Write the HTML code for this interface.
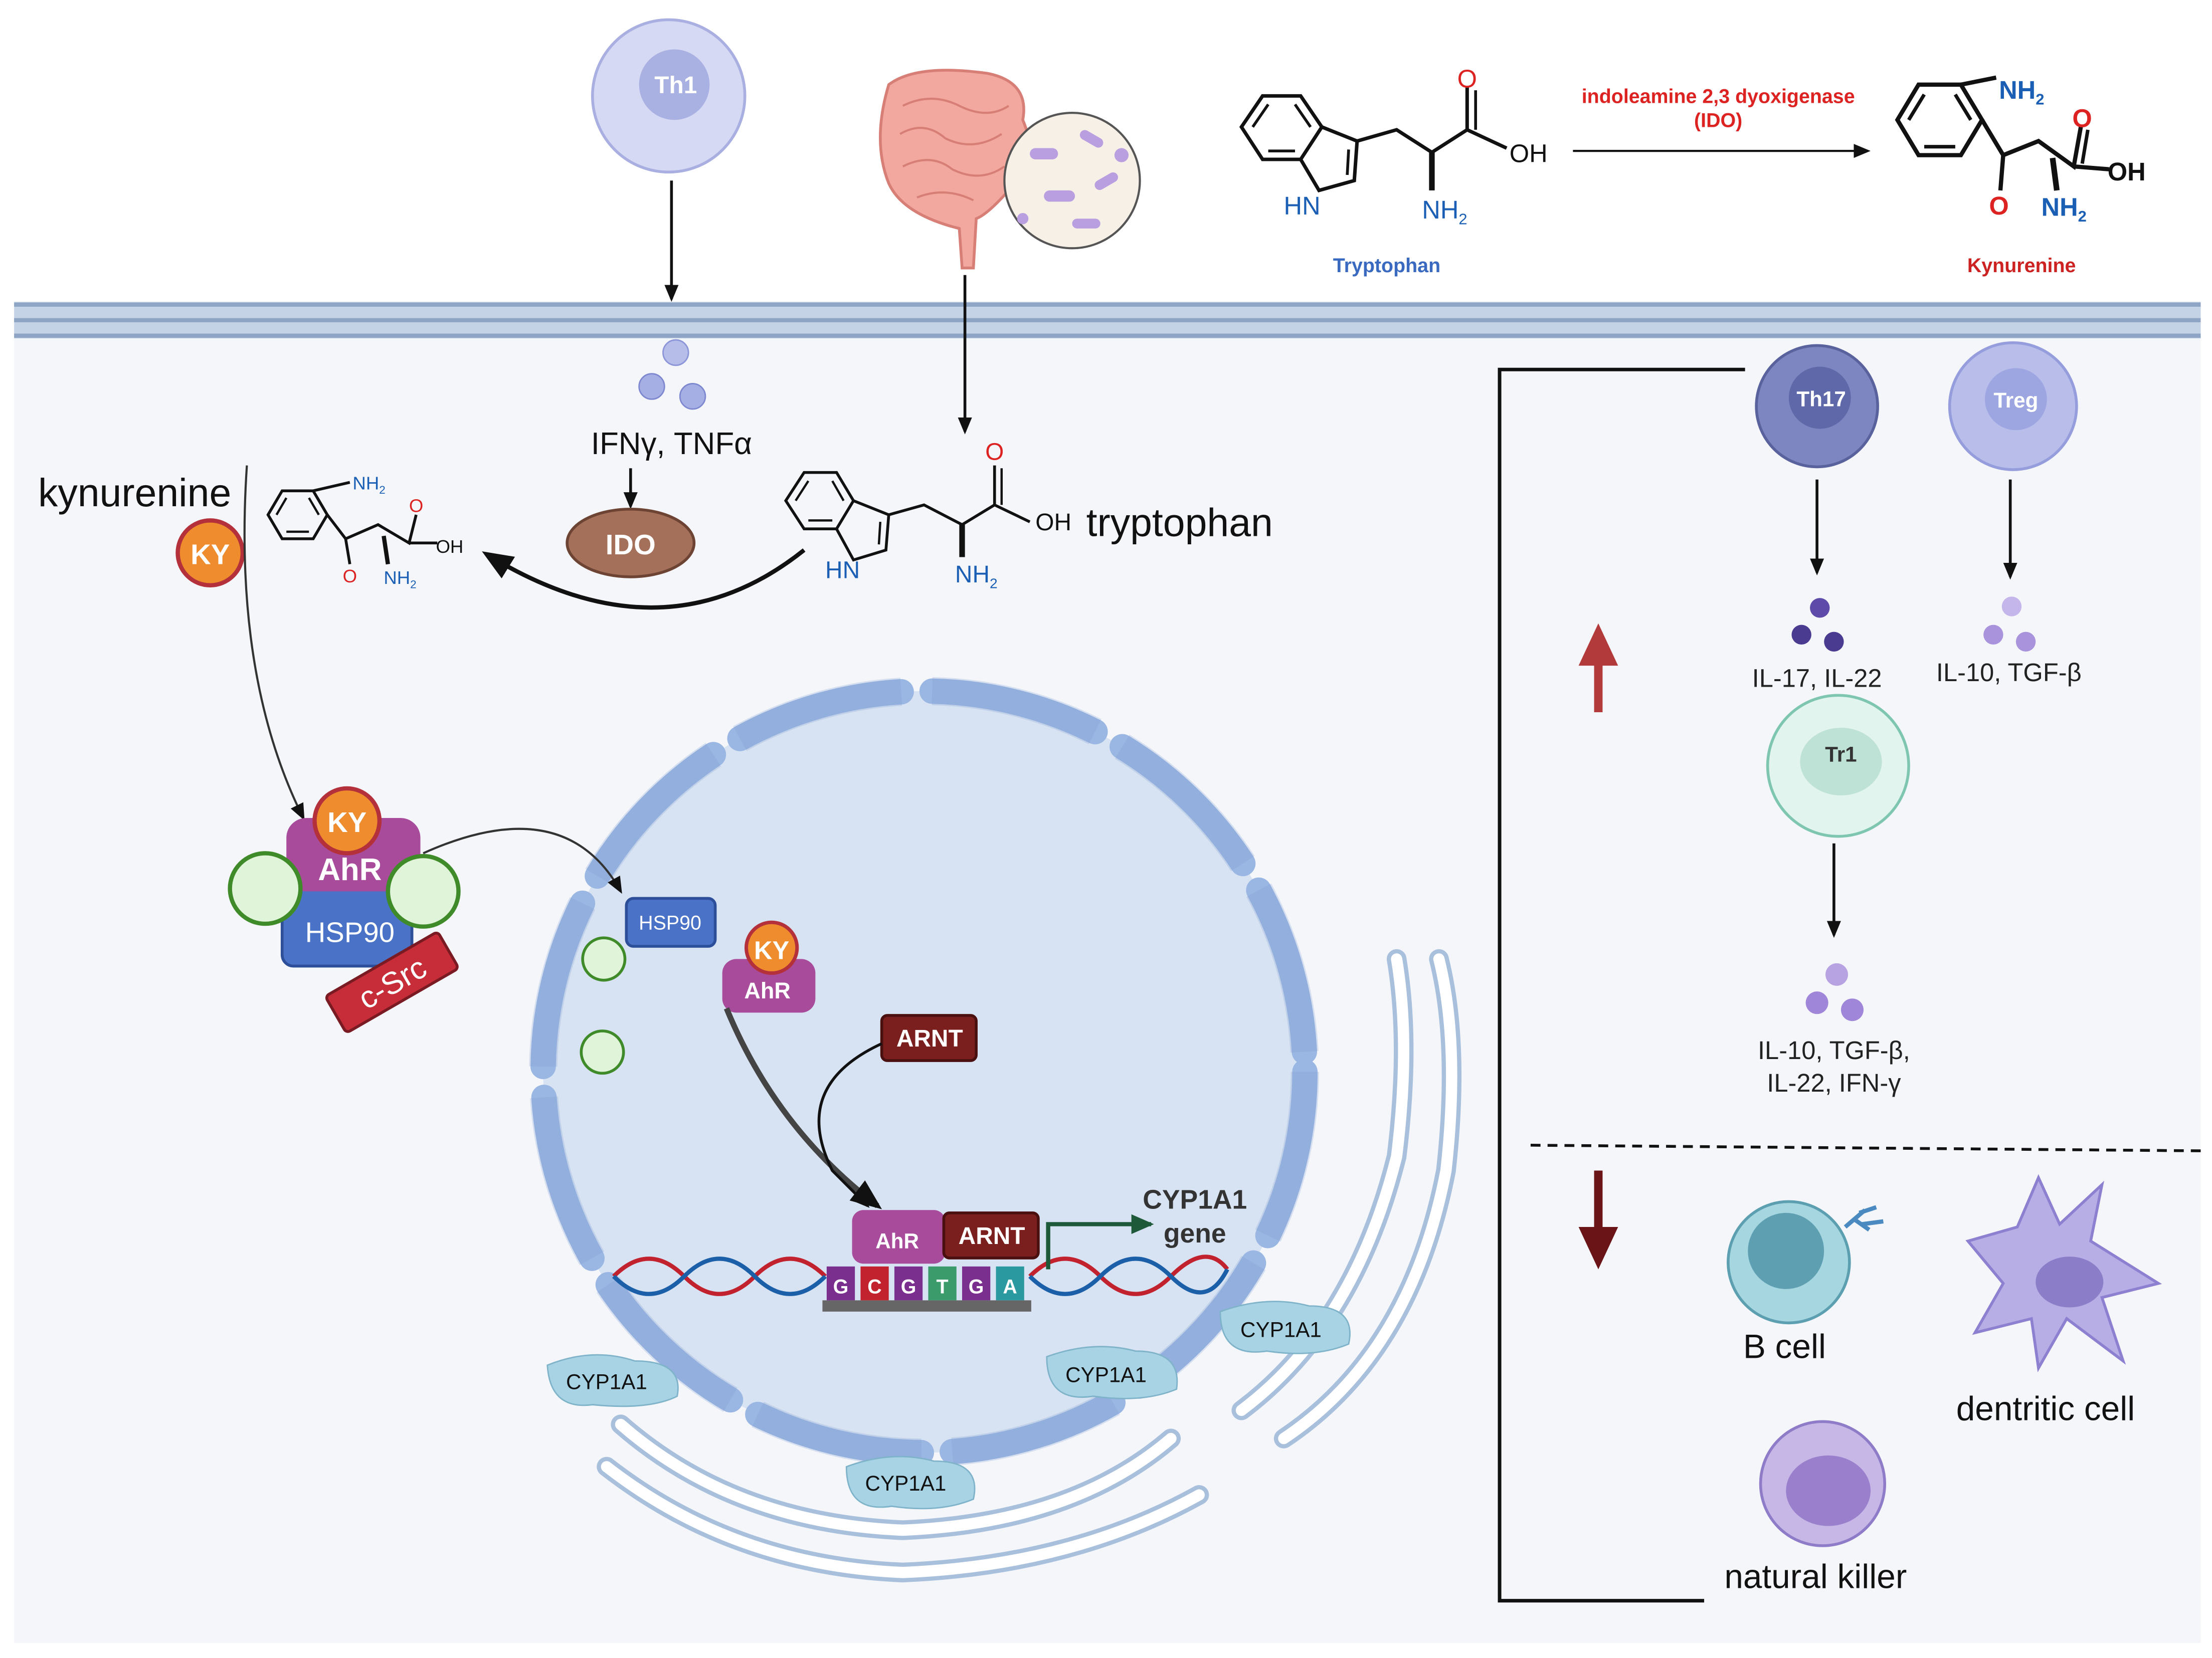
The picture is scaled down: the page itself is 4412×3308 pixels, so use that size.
<!DOCTYPE html>
<html><head><meta charset="utf-8"><style>
html,body{margin:0;padding:0;background:#fff}
svg{display:block}
text{font-family:"Liberation Sans",sans-serif}
</style></head><body>
<svg width="4412" height="3308" viewBox="0 0 1568 1175.6" xmlns="http://www.w3.org/2000/svg">
<defs>
<marker id="ah" markerWidth="12" markerHeight="12" refX="10" refY="6" orient="auto" markerUnits="userSpaceOnUse"><path d="M0,1 L12,6 L0,11 z" fill="#111"/></marker>
<marker id="ahb" markerWidth="22" markerHeight="22" refX="18" refY="11" orient="auto" markerUnits="userSpaceOnUse"><path d="M0,2 L22,11 L0,20 z" fill="#111"/></marker>
<marker id="ahg" markerWidth="16" markerHeight="16" refX="14" refY="8" orient="auto" markerUnits="userSpaceOnUse"><path d="M0,1 L16,8 L0,15 z" fill="#1e5a3a"/></marker>
</defs>
<rect width="1568" height="1176" fill="#fff"/>
<rect x="10" y="240" width="1550" height="925" fill="#f4f6fa"/>
<rect x="10" y="214" width="1550" height="26" fill="#c5d3e6"/>
<line x1="10" y1="216" x2="1560" y2="216" stroke="#8ea5c6" stroke-width="3"/>
<line x1="10" y1="227" x2="1560" y2="227" stroke="#8ea5c6" stroke-width="3"/>
<line x1="10" y1="238" x2="1560" y2="238" stroke="#8ea5c6" stroke-width="3"/>

<!-- Th1 -->
<circle cx="474" cy="68" r="54" fill="#d6d9f3" stroke="#a9afe0" stroke-width="2"/>
<circle cx="478" cy="60" r="25" fill="#a9b0e2"/>
<text x="479" y="66" font-size="17" font-weight="bold" fill="#fff" text-anchor="middle">Th1</text>
<line x1="476" y1="128" x2="476" y2="212" stroke="#111" stroke-width="2" marker-end="url(#ah)"/>

<!-- gut -->
<path d="M630,60 Q650,45 700,52 Q730,58 725,85 Q738,115 715,135 Q700,152 692,155 L690,190 L682,190 L680,162 Q640,152 630,130 Q618,100 630,60z" fill="#f2a89e" stroke="#d77f77" stroke-width="2"/>
<g fill="none" stroke="#d77f77" stroke-width="1.5">
<path d="M640,75 Q660,65 680,75 Q700,85 715,75"/><path d="M638,95 Q655,85 670,98 Q690,108 710,95"/><path d="M640,118 Q660,108 675,120 Q695,130 712,118"/><path d="M650,140 Q670,132 690,142"/>
</g>
<circle cx="760" cy="128" r="48" fill="#f6f0e6" stroke="#555" stroke-width="1.5"/>
<g fill="#b99ee0"><rect x="730" y="105" width="20" height="8" rx="4"/><rect x="765" y="95" width="18" height="7" rx="3.5" transform="rotate(30 774 98)"/><rect x="740" y="135" width="22" height="8" rx="4"/><rect x="775" y="125" width="18" height="7" rx="3.5" transform="rotate(-30 784 128)"/><rect x="760" y="155" width="20" height="7" rx="3.5"/><circle cx="795" cy="110" r="5"/><circle cx="725" cy="155" r="4"/></g>
<line x1="684" y1="195" x2="684" y2="306" stroke="#111" stroke-width="2" marker-end="url(#ah)"/>

<!-- top tryptophan -->
<g stroke="#111" stroke-width="2.5" fill="none">
<path d="M880,90 L895,68 L922,68 L937,90 L922,113 L895,113 Z"/>
<path d="M888,90 L899,74 M918,74 L929,90 M899,107 L918,107" stroke-width="2"/>
<path d="M937,90 L962,100 L960,128 L935,135 L922,113"/>
<path d="M956,106 L955,124" stroke-width="2"/>
<path d="M962,100 L990,92 L1015,108 L1040,92 L1040,62"/>
<path d="M1046,92 L1046,64" stroke-width="2"/>
<path d="M1040,92 L1068,105"/>
<line x1="1015" y1="108" x2="1015" y2="135" stroke-width="4"/>
</g>
<text x="1040" y="62" font-size="18" fill="#d22" text-anchor="middle">O</text>
<text x="1070" y="115" font-size="18" fill="#111">OH</text>
<text x="910" y="152" font-size="18" fill="#1a5fb4">HN</text>
<text x="1008" y="155" font-size="18" fill="#1a5fb4">NH<tspan font-size="11" dy="4">2</tspan></text>
<text x="983" y="193" font-size="14" font-weight="bold" fill="#3a6ac0" text-anchor="middle">Tryptophan</text>
<text x="1218" y="73" font-size="14" font-weight="bold" fill="#d22" text-anchor="middle">indoleamine 2,3 dyoxigenase</text>
<text x="1218" y="90" font-size="14" font-weight="bold" fill="#d22" text-anchor="middle">(IDO)</text>
<line x1="1115" y1="107" x2="1324" y2="107" stroke="#111" stroke-width="1.5" marker-end="url(#ah)"/>
<!-- top kynurenine -->
<g stroke="#111" stroke-width="3" fill="none">
<path d="M1345,85 L1360,60 L1390,60 L1405,85 L1390,110 L1360,110 Z"/>
<path d="M1353,85 L1364,67 M1386,67 L1397,85 M1364,104 L1386,104" stroke-width="2.5"/>
<path d="M1390,60 L1415,55"/><path d="M1405,85 L1420,110 L1445,100 L1470,118 L1475,90 M1470,118 L1495,120"/>
<path d="M1480,92 L1476,116" stroke-width="2.5"/>
<line x1="1420" y1="110" x2="1418" y2="135"/><line x1="1455" y1="112" x2="1458" y2="135" stroke-width="4"/>
</g>
<text x="1417" y="70" font-size="18" font-weight="bold" fill="#1a5fb4">NH<tspan font-size="11" dy="4">2</tspan></text>
<text x="1476" y="90" font-size="18" font-weight="bold" fill="#d22" text-anchor="middle">O</text>
<text x="1494" y="128" font-size="18" font-weight="bold" fill="#111">OH</text>
<text x="1417" y="152" font-size="18" font-weight="bold" fill="#d22" text-anchor="middle">O</text>
<text x="1447" y="153" font-size="18" font-weight="bold" fill="#1a5fb4">NH<tspan font-size="11" dy="4">2</tspan></text>
<text x="1433" y="193" font-size="14" font-weight="bold" fill="#c22" text-anchor="middle">Kynurenine</text>

<!-- cytokines IFN -->
<circle cx="479" cy="250" r="9" fill="#b5bde8" stroke="#8b95d8"/>
<circle cx="462" cy="274" r="9" fill="#a6afe3" stroke="#7d88d0"/>
<circle cx="491" cy="281" r="9" fill="#a6afe3" stroke="#7d88d0"/>
<text x="476" y="322" font-size="22" fill="#111" text-anchor="middle">IFNγ, TNFα</text>
<line x1="447" y1="332" x2="447" y2="359" stroke="#111" stroke-width="2" marker-end="url(#ah)"/>
<ellipse cx="447" cy="385" rx="45" ry="24" fill="#a5705a" stroke="#6d4434" stroke-width="2"/>
<text x="447" y="393" font-size="20" font-weight="bold" fill="#fff" text-anchor="middle">IDO</text>

<!-- cytoplasm tryptophan -->
<g stroke="#111" stroke-width="2" fill="none">
<path d="M557,355 L570,335 L593,335 L605,355 L593,375 L570,375 Z"/>
<path d="M564,355 L573,341 M590,341 L598,355 M573,369 L590,369" stroke-width="1.6"/>
<path d="M605,355 L630,365 L628,390 L605,397 L593,375"/>
<path d="M624,370 L623,386" stroke-width="1.6"/>
<path d="M630,365 L655,358 L682,372 L705,358 L705,330 M705,358 L730,370"/>
<path d="M710,358 L710,332" stroke-width="1.6"/>
<line x1="682" y1="372" x2="682" y2="395" stroke-width="4"/>
</g>
<text x="705" y="326" font-size="17" fill="#d22" text-anchor="middle">O</text>
<text x="734" y="376" font-size="17" fill="#111">OH</text>
<text x="585" y="410" font-size="17" fill="#1a5fb4">HN</text>
<text x="677" y="413" font-size="17" fill="#1a5fb4">NH<tspan font-size="10" dy="4">2</tspan></text>
<text x="770" y="380" font-size="28" fill="#111">tryptophan</text>
<path d="M570,390 Q470,470 345,393" stroke="#111" stroke-width="3" fill="none" marker-end="url(#ahb)"/>

<!-- cytoplasm kynurenine -->
<text x="27" y="359" font-size="28" fill="#111">kynurenine</text>
<g stroke="#111" stroke-width="2" fill="none">
<path d="M190,365 L200,348 L222,348 L232,365 L222,382 L200,382 Z"/>
<path d="M196,365 L203,353 M219,353 L226,365 M203,377 L219,377" stroke-width="1.6"/>
<path d="M222,348 L248,342 M232,365 L245,382 L268,372 L290,385 L295,365 M290,385 L310,385"/>
<line x1="245" y1="382" x2="248" y2="400"/><line x1="272" y1="380" x2="275" y2="400" stroke-width="3"/>
</g>
<text x="250" y="347" font-size="13" fill="#1a5fb4">NH<tspan font-size="8" dy="3">2</tspan></text>
<text x="295" y="363" font-size="13" fill="#d22" text-anchor="middle">O</text>
<text x="309" y="392" font-size="13" fill="#111">OH</text>
<text x="248" y="413" font-size="13" fill="#d22" text-anchor="middle">O</text>
<text x="272" y="414" font-size="13" fill="#1a5fb4">NH<tspan font-size="8" dy="3">2</tspan></text>
<circle cx="149" cy="392" r="23" fill="#ee8c2e" stroke="#b4303a" stroke-width="3"/>
<text x="149" y="400" font-size="20" font-weight="bold" fill="#fff" text-anchor="middle">KY</text>
<path d="M175,330 Q165,480 215,580" stroke="#333" stroke-width="1.5" fill="none" marker-end="url(#ah)"/>

<!-- AhR complex -->
<rect x="200" y="625" width="92" height="60" rx="8" fill="#4a72c6" stroke="#2d4f99" stroke-width="2"/>
<text x="248" y="668" font-size="20" fill="#fff" text-anchor="middle">HSP90</text>
<rect x="203" y="580" width="95" height="52" rx="14" fill="#a84b9b"/>
<text x="248" y="624" font-size="22" font-weight="bold" fill="#fff" text-anchor="middle">AhR</text>
<circle cx="188" cy="630" r="25" fill="#dff4d8" stroke="#3f8b2a" stroke-width="3"/>
<circle cx="300" cy="632" r="25" fill="#dff4d8" stroke="#3f8b2a" stroke-width="3"/>
<circle cx="246" cy="582" r="23" fill="#ee8c2e" stroke="#b4303a" stroke-width="3"/>
<text x="246" y="590" font-size="20" font-weight="bold" fill="#fff" text-anchor="middle">KY</text>
<g transform="rotate(-30 277 697)"><rect x="232" y="682" width="92" height="30" rx="3" fill="#c62d38" stroke="#7a1a22" stroke-width="2"/><text x="278" y="705" font-size="22" fill="#fff" text-anchor="middle">c-Src</text></g>

<!-- ER -->
<g stroke="#a9c0dd" stroke-width="14" fill="none" stroke-linecap="round">
<path d="M440,1010 Q520,1080 640,1085 Q760,1080 830,1020"/>
<path d="M430,1040 Q520,1110 640,1115 Q760,1110 850,1060"/>
<path d="M880,1000 Q960,940 990,820 Q1000,740 990,680"/>
<path d="M910,1020 Q1000,960 1025,830 Q1035,740 1020,680"/>
</g>
<g stroke="#fff" stroke-width="8" fill="none" stroke-linecap="round">
<path d="M440,1010 Q520,1080 640,1085 Q760,1080 830,1020"/>
<path d="M430,1040 Q520,1110 640,1115 Q760,1110 850,1060"/>
<path d="M880,1000 Q960,940 990,820 Q1000,740 990,680"/>
<path d="M910,1020 Q1000,960 1025,830 Q1035,740 1020,680"/>
</g>

<!-- nucleus -->
<circle cx="655" cy="760" r="270" fill="#d7e3f2"/>
<circle cx="655" cy="760" r="270" fill="none" stroke="#9ab6e2" stroke-width="18" stroke-dasharray="120 22" stroke-linecap="round"/>
<circle cx="655" cy="760" r="270" fill="none" stroke="#7d9bd0" stroke-width="20" stroke-dasharray="120 22" stroke-opacity="0.25"/>

<path d="M300,605 Q400,560 440,632" stroke="#333" stroke-width="1.5" fill="none" marker-end="url(#ah)"/>
<rect x="444" y="637" width="63" height="34" rx="5" fill="#4a72c6" stroke="#2d4f99" stroke-width="2"/>
<text x="475" y="659" font-size="14" fill="#fff" text-anchor="middle">HSP90</text>
<circle cx="428" cy="680" r="15" fill="#dff4d8" stroke="#3f8b2a" stroke-width="2"/>
<circle cx="427" cy="746" r="15" fill="#dff4d8" stroke="#3f8b2a" stroke-width="2"/>
<rect x="512" y="680" width="66" height="38" rx="10" fill="#a84b9b"/>
<text x="544" y="708" font-size="16" font-weight="bold" fill="#fff" text-anchor="middle">AhR</text>
<circle cx="547" cy="672" r="18" fill="#ee8c2e" stroke="#b4303a" stroke-width="2.5"/>
<text x="547" y="680" font-size="18" font-weight="bold" fill="#fff" text-anchor="middle">KY</text>
<path d="M515,715 Q550,800 622,855" stroke="#444" stroke-width="4" fill="none" marker-end="url(#ahb)"/>
<rect x="625" y="720" width="67" height="32" rx="4" fill="#7a1e1e" stroke="#4a1010" stroke-width="2"/>
<text x="659" y="742" font-size="17" font-weight="bold" fill="#fff" text-anchor="middle">ARNT</text>
<path d="M625,740 Q560,770 590,830 L615,855" stroke="#111" stroke-width="2" fill="none" marker-end="url(#ah)"/>

<!-- DNA -->
<g fill="none" stroke-width="3">
<path d="M435,905 Q460,880 485,905 T535,905 T585,905" stroke="#c2222e"/>
<path d="M435,905 Q460,930 485,905 T535,905 T585,905" stroke="#1b5fa8"/>
<path d="M730,905 Q755,880 780,905 T830,905 T870,900" stroke="#c2222e"/>
<path d="M730,905 Q755,930 780,905 T830,905 T870,900" stroke="#1b5fa8"/>
</g>
<rect x="583" y="922" width="148" height="8" fill="#666"/>
<g font-size="14" font-weight="bold" fill="#fff" text-anchor="middle">
<rect x="586" y="898" width="20" height="24" fill="#7a2f8f"/><text x="596" y="917">G</text>
<rect x="610" y="898" width="20" height="24" fill="#c2222e"/><text x="620" y="917">C</text>
<rect x="634" y="898" width="20" height="24" fill="#7a2f8f"/><text x="644" y="917">G</text>
<rect x="658" y="898" width="20" height="24" fill="#3b9b6a"/><text x="668" y="917">T</text>
<rect x="682" y="898" width="20" height="24" fill="#7a2f8f"/><text x="692" y="917">G</text>
<rect x="706" y="898" width="20" height="24" fill="#2a9aa0"/><text x="716" y="917">A</text>
</g>
<rect x="604" y="858" width="66" height="38" rx="8" fill="#a84b9b"/>
<text x="636" y="885" font-size="15" font-weight="bold" fill="#fff" text-anchor="middle">AhR</text>
<rect x="669" y="860" width="67" height="32" rx="4" fill="#7a1e1e" stroke="#4a1010" stroke-width="2"/>
<text x="703" y="882" font-size="17" font-weight="bold" fill="#fff" text-anchor="middle">ARNT</text>
<path d="M743,900 L743,868 L816,868" stroke="#1e5a3a" stroke-width="3" fill="none" marker-end="url(#ahg)"/>
<text x="847" y="857" font-size="19" font-weight="bold" fill="#333" text-anchor="middle">CYP1A1</text>
<text x="847" y="881" font-size="19" font-weight="bold" fill="#333" text-anchor="middle">gene</text>

<!-- CYP1A1 blobs -->
<g font-size="15" fill="#111" text-anchor="middle">
<path d="M388,968 Q420,955 450,965 Q485,965 480,990 Q460,1000 420,996 Q390,1000 388,968z" fill="#a7d3e4" stroke="#7fb3c9"/><text x="430" y="985">CYP1A1</text>
<path d="M742,962 Q775,950 805,958 Q838,958 834,985 Q810,995 775,990 Q742,995 742,962z" fill="#a7d3e4" stroke="#7fb3c9"/><text x="784" y="980">CYP1A1</text>
<path d="M865,930 Q898,918 928,926 Q962,926 956,953 Q932,963 898,958 Q865,963 865,930z" fill="#a7d3e4" stroke="#7fb3c9"/><text x="908" y="948">CYP1A1</text>
<path d="M600,1040 Q632,1028 662,1036 Q696,1036 690,1063 Q666,1073 632,1068 Q600,1073 600,1040z" fill="#a7d3e4" stroke="#7fb3c9"/><text x="642" y="1057">CYP1A1</text>
</g>

<!-- right panel -->
<path d="M1237,262 L1063,262 L1063,1135 L1208,1135" stroke="#111" stroke-width="2.5" fill="none"/>
<line x1="1085" y1="812" x2="1560" y2="816" stroke="#111" stroke-width="2" stroke-dasharray="7 5"/>
<line x1="1133" y1="505" x2="1133" y2="470" stroke="#b23a3a" stroke-width="6"/>
<path d="M1119,472 L1133,442 L1147,472z" fill="#b23a3a"/>
<line x1="1133" y1="830" x2="1133" y2="875" stroke="#6a1418" stroke-width="6"/>
<path d="M1119,870 L1133,900 L1147,870z" fill="#6a1418"/>

<circle cx="1288" cy="288" r="43" fill="#7d86c0" stroke="#5a629e" stroke-width="2"/>
<circle cx="1290" cy="282" r="22" fill="#5f68a8"/>
<text x="1291" y="288" font-size="15" font-weight="bold" fill="#fff" text-anchor="middle">Th17</text>
<circle cx="1427" cy="288" r="45" fill="#b8bdea" stroke="#959ddc" stroke-width="2"/>
<circle cx="1429" cy="283" r="22" fill="#9ea6e2"/>
<text x="1429" y="289" font-size="15" font-weight="bold" fill="#fff" text-anchor="middle">Treg</text>
<line x1="1288" y1="340" x2="1288" y2="406" stroke="#111" stroke-width="2" marker-end="url(#ah)"/>
<line x1="1425" y1="340" x2="1425" y2="409" stroke="#111" stroke-width="2" marker-end="url(#ah)"/>
<circle cx="1290" cy="431" r="7" fill="#5e4aa8"/><circle cx="1277" cy="450" r="7" fill="#4a3a90"/><circle cx="1300" cy="455" r="7" fill="#4a3a90"/>
<circle cx="1426" cy="430" r="7" fill="#c4b5ea"/><circle cx="1413" cy="450" r="7" fill="#a893dc"/><circle cx="1436" cy="455" r="7" fill="#a893dc"/>
<text x="1288" y="487" font-size="18" fill="#222" text-anchor="middle">IL-17, IL-22</text>
<text x="1424" y="483" font-size="18" fill="#222" text-anchor="middle">IL-10, TGF-β</text>
<circle cx="1303" cy="543" r="50" fill="#e2f4ee" stroke="#7fc6b0" stroke-width="2"/>
<ellipse cx="1305" cy="540" rx="29" ry="24" fill="#bfe2d6"/>
<text x="1305" y="540" font-size="15" font-weight="bold" fill="#333" text-anchor="middle">Tr1</text>
<line x1="1300" y1="598" x2="1300" y2="663" stroke="#111" stroke-width="2" marker-end="url(#ah)"/>
<circle cx="1302" cy="691" r="8" fill="#b8a3e2"/><circle cx="1288" cy="711" r="8" fill="#9f86d8"/><circle cx="1313" cy="716" r="8" fill="#9f86d8"/>
<text x="1300" y="751" font-size="18" fill="#222" text-anchor="middle">IL-10, TGF-β,</text>
<text x="1300" y="774" font-size="18" fill="#222" text-anchor="middle">IL-22, IFN-γ</text>

<circle cx="1268" cy="895" r="43" fill="#a6d6e0" stroke="#5c9fb0" stroke-width="2"/>
<circle cx="1266" cy="887" r="27" fill="#5f9fb2"/>
<path d="M1308,870 L1322,858 M1315,865 L1325,872 M1318,860 L1330,856 M1320,868 L1335,866" stroke="#4a8ac0" stroke-width="3"/>
<text x="1265" y="963" font-size="24" fill="#111" text-anchor="middle">B cell</text>
<path d="M1430,870 L1445,835 L1460,868 L1490,840 L1482,880 L1530,910 L1490,920 L1505,965 L1465,935 L1445,970 L1440,935 L1400,945 L1420,910 L1395,880 Z" fill="#b7aee6" stroke="#8d80d0" stroke-width="2"/>
<ellipse cx="1467" cy="909" rx="24" ry="18" fill="#8c7dc8"/>
<text x="1450" y="1007" font-size="24" fill="#111" text-anchor="middle">dentritic cell</text>
<circle cx="1292" cy="1052" r="44" fill="#c6b7e6" stroke="#8f7cc8" stroke-width="2"/>
<ellipse cx="1296" cy="1057" rx="30" ry="25" fill="#9a80cc"/>
<text x="1287" y="1126" font-size="24" fill="#111" text-anchor="middle">natural killer</text>
</svg>
</body></html>
